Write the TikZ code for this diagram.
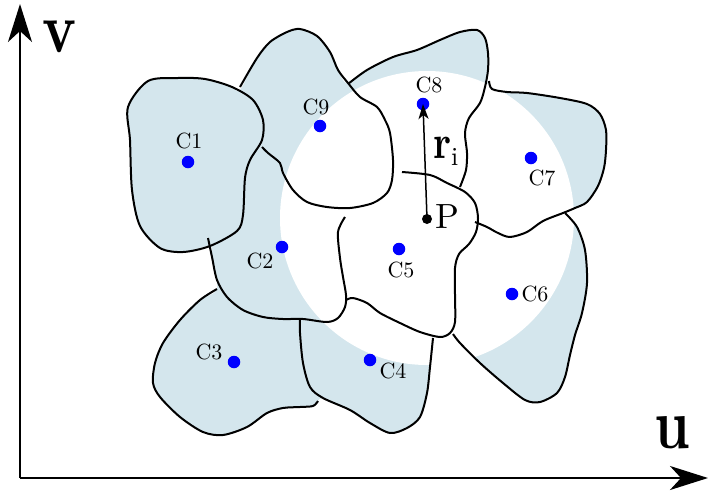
\documentclass[tikz,border=0pt]{standalone}
\usepackage{fontspec}
\setmainfont{lmroman10-regular}[Extension=.otf, BoldFont=lmroman10-bold]
\usetikzlibrary{arrows.meta}
\definecolor{cellblue}{RGB}{212,230,237}
\definecolor{siteblue}{RGB}{0,0,255}

\begin{document}
\begin{tikzpicture}[x=1pt, y=-1pt, line width=2pt, line join=round,
  site/.style={circle, fill=siteblue, inner sep=0pt, minimum size=12.5pt},
  lbl/.style={font=\fontsize{22}{22}\selectfont, inner sep=0pt},
  big/.style={font=\fontsize{56}{56}\selectfont\bfseries, inner sep=0pt, anchor=base west},
  axis/.style={line width=2.5pt, -{Stealth[length=38pt, width=24pt, inset=11pt]}},
  edge/.style={line width=2pt}]
  \useasboundingbox (0,0) rectangle (712,493);
  % outline of all cells together, shaded; the disc round P stays white
  \def\cellsunion{plot[smooth cycle, tension=0.5] coordinates {(128,107) (148,81) (178,78) (205,79) (232,87) (240,90)
    (257,58) (270,42) (287,32) (300,29) (317,36) (330,52) (338,70) (346,83)
    (360,74) (383,61) (410,52) (440,41) (462,32) (474,30) (483,37) (488,52) (488,70) (488,84)
    (503,92) (527,93) (560,98) (587,104) (600,114) (606,130) (606,150) (604,168) (598,186) (587,202) (575,208) (565,213)
    (577,227) (585,250) (587,283) (582,313) (575,335) (570,355) (565,377) (557,393) (540,402) (525,400) (503,383) (480,363) (460,343) (453,335)
    (433,338) (430,367) (427,393) (420,417) (407,428) (390,433) (370,423) (350,410) (323,398)
    (313,406) (300,407) (283,408) (267,413) (247,427) (223,435) (203,432) (180,417) (160,397) (153,383) (155,363) (163,343) (180,320) (200,300) (217,289)
    (212,257) (210,246) (183,252) (160,248) (140,226) (132,190) (130,140)}}
  \fill[cellblue] \cellsunion;
  \begin{scope}
    \clip \cellsunion;
    \fill[white] (427,218) circle (147);
  \end{scope}

  % cell edges
  \draw[edge] plot[smooth cycle, tension=0.5] coordinates {(148,81) (178,78) (205,79) (232,87) (253,100) (263,120) (262,140) (250,160) (245,178) (243,215) (237,231) (210,246) (183,252) (160,248) (140,226) (132,190) (130,140) (128,107)};
  \draw[edge] plot[smooth, tension=0.5] coordinates {(240,87) (257,58) (270,42) (287,32) (300,29) (317,36) (330,52) (338,70) (348,83) (360,97) (377,107) (385,120) (390,133) (393,160) (392,180) (387,193) (373,203) (350,208) (327,207) (307,202) (293,190) (283,173) (280,163) (268,153) (262,147)};
  \draw[edge] plot[smooth, tension=0.5] coordinates {(348,84) (367,70) (393,57) (417,50) (440,40) (460,32) (477,30) (485,38) (488,53) (488,70) (485,87) (480,103) (469,118) (465,133) (467,153) (466,170) (460,187)};
  \draw[edge] plot[smooth, tension=0.5] coordinates {(489,81) (492,89) (507,92) (527,93) (560,98) (587,104) (600,114) (606,130) (606,150) (604,168) (598,186) (587,202) (575,208) (563,213) (543,221) (527,232) (510,237) (498,233) (487,227) (475,222)};
  \draw[edge] plot[smooth, tension=0.5] coordinates {(402,172) (430,175) (447,183) (465,192) (475,203) (478,218) (476,232) (469,244) (459,254) (455,268) (455,295) (455,322) (450,333) (440,337) (420,332) (400,323) (380,313) (367,303) (353,298) (346,300)};
  \draw[edge] plot[smooth, tension=0.5] coordinates {(208,238) (212,257) (217,280) (227,297) (243,310) (263,317) (283,319) (303,319) (327,322) (338,318) (345,307) (346,295) (343,277) (340,258) (338,232) (345,217)};
  \draw[edge] plot[smooth, tension=0.5] coordinates {(565,213) (577,227) (585,250) (587,283) (582,313) (575,335) (570,355) (565,377) (557,393) (540,402) (525,400) (503,383) (480,363) (460,343) (453,334)};
  \draw[edge] plot[smooth, tension=0.5] coordinates {(433,338) (430,367) (427,393) (420,417) (407,428) (390,433) (370,423) (350,410) (323,398) (310,387) (303,363) (300,333) (300,320)};
  \draw[edge] plot[smooth, tension=0.5] coordinates {(217,289) (200,300) (180,320) (163,343) (155,363) (153,383) (160,397) (180,417) (203,432) (223,435) (247,427) (267,413) (283,408) (300,407) (313,406) (318,401)};

  % sites
  \node[site] (c1) at (188,162) {};
  \node[site] (c2) at (282,247) {};
  \node[site] (c3) at (234,362) {};
  \node[site] (c4) at (370,360) {};
  \node[site] (c5) at (399,249) {};
  \node[site] (c6) at (512,294) {};
  \node[site] (c7) at (531,158) {};
  \node[site] (c8) at (423,104) {};
  \node[site] (c9) at (320,126) {};
  \node[lbl] (c1l) at (189,141) {C1};
  \node[lbl] (c2l) at (260,261) {C2};
  \node[lbl] (c3l) at (209,352) {C3};
  \node[lbl] (c4l) at (393,371) {C4};
  \node[lbl] (c5l) at (401,270) {C5};
  \node[lbl] (c6l) at (535,294) {C6};
  \node[lbl] (c7l) at (542,178) {C7};
  \node[lbl] (c8l) at (429,85) {C8};
  \node[lbl] (c9l) at (316,107) {C9};

  % point P and its distance to C8
  \node[circle, fill=black, inner sep=0pt, minimum size=10pt] (p) at (427,219) {};
  \node[font=\fontsize{35}{35}\selectfont, inner sep=0pt, anchor=base west] (pl) at (434,228) {P};
  \draw[line width=1.5pt, -{Stealth[length=15pt, width=10pt, inset=4pt]}] (p.center) -- (c8.center);
  \node[inner sep=0pt, anchor=base west] (ril) at (432,158) {\fontsize{38}{38}\selectfont\bfseries\scalebox{1}[1.25]{r}\raisebox{-7pt}{\fontsize{26}{26}\mdseries i}};

  % axes
  \coordinate (o) at (20,478);
  \coordinate (vend) at (20,4);
  \coordinate (uend) at (708,478);
  \draw[axis] (o) -- (vend);
  \draw[axis] (o) -- (uend);
  \node[big] (vl) at (41,52) {\scalebox{1}[1.27]{v}};
  \node[big] (ul) at (653,448) {\scalebox{1}[1.27]{u}};
\end{tikzpicture}
\end{document}
